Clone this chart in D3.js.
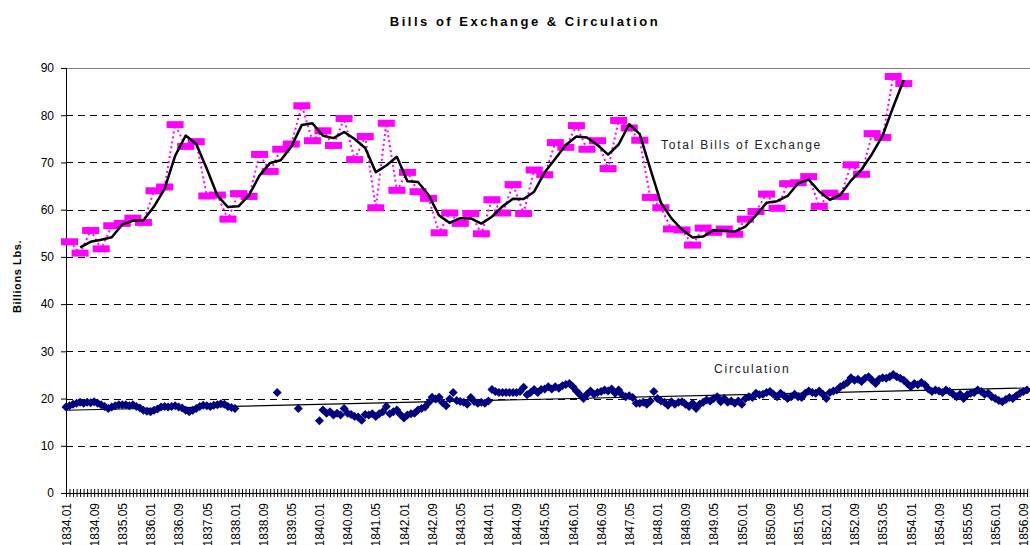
<!DOCTYPE html>
<html>
<head>
<meta charset="utf-8">
<script src="https://cdn.jsdelivr.net/npm/d3@7"></script>
<style>
  body { margin: 0; background: #fff; }
  svg { font-family: "Liberation Sans", Arial, sans-serif; }
</style>
</head>
<body>
<svg id="chart"></svg>
<script>
// monthly categories 1834.01 .. 1856.10
const startYear = 1834;
const monthCount = 274;
const months = d3.range(monthCount).map(
  (i) => `${startYear + Math.floor(i / 12)}.${String((i % 12) + 1).padStart(2, "0")}`
);

const tickLabels = [
  "1834.01", "1834.09", "1835.05", "1836.01", "1836.09", "1837.05", "1838.01",
  "1838.09", "1839.05", "1840.01", "1840.09", "1841.05", "1842.01", "1842.09",
  "1843.05", "1844.01", "1844.09", "1845.05", "1846.01", "1846.09", "1847.05",
  "1848.01", "1848.09", "1849.05", "1850.01", "1850.09", "1851.05", "1852.01",
  "1852.09", "1853.05", "1854.01", "1854.09", "1855.05", "1856.01", "1856.09",
];
const yTicks = [0, 10, 20, 30, 40, 50, 60, 70, 80, 90];

// quarterly totals of bills of exchange (from 1834.02)
const billsValues = [
  53.2, 50.8, 55.6, 51.7, 56.6, 57.1, 58.2, 57.3, 64.0, 64.8,
  78.0, 73.4, 74.4, 62.9, 63.1, 58.0, 63.4, 62.8, 71.7, 68.1,
  72.8, 73.9, 82.0, 74.6, 76.7, 73.6, 79.3, 70.6, 75.5, 60.4,
  78.3, 64.1, 67.9, 63.8, 62.4, 55.1, 59.3, 57.1, 59.2, 54.9,
  62.1, 59.3, 65.3, 59.2, 68.4, 67.4, 74.2, 73.2, 77.8, 72.8,
  74.6, 68.7, 78.9, 77.3, 74.7, 62.6, 60.4, 55.9, 55.7, 52.5,
  56.1, 55.2, 55.9, 54.8, 58.0, 59.6, 63.3, 60.3, 65.5, 65.7,
  67.0, 60.7, 63.5, 62.8, 69.5, 67.5, 76.1, 75.3, 88.2, 86.7,
];
const billsMonths = months.filter((d, i) => i % 3 === 1).slice(0, billsValues.length);

// monthly circulation (null = no figure)
const circulation = [
  18.2, 18.5, 18.8, 19.0, 19.2, 19.0, 19.2, 19.1, 19.3, 19.0,
  18.7, 18.3, 17.9, 18.2, 18.5, 18.7, 18.7, 18.7, 18.5, 18.7,
  18.3, 18.0, 17.5, 17.3, 17.2, 17.5, 17.8, 18.2, 18.3, 18.2,
  18.3, 18.5, 18.2, 18.0, 17.5, 17.2, 17.5, 17.9, 18.3, 18.6,
  18.5, 18.3, 18.6, 18.7, 18.9, 18.8, 18.3, 18.1, 17.9,
  null, null, null, null, null, null, null, null, null, null, null,
  21.3, null, null, null, null, null,
  17.9, null, null, null, null, null,
  15.3, 17.6, 16.9, 17.2, 16.5, 16.9, 16.5, 17.9, 16.9, 16.6,
  16.2, 16.1, 15.4, 16.6, 16.5, 16.8, 16.2, 16.8, 17.2, 18.3,
  16.8, 17.2, 17.6, 16.6, 15.9, 16.5, 16.8, 16.9, 17.6, 17.9,
  18.2, 19.1, 20.3, 19.9, 20.3, 19.1, 18.5, 19.9, 21.3, 19.6,
  19.4, 19.2, 18.8, 20.2, 19.4, 19.0, 19.2, 19.0, 19.5, 21.9,
  21.5, 21.3, 21.3, 21.3, 21.3, 21.3, 21.3, 21.5, 22.4, 20.8,
  21.3, 21.9, 21.3, 21.9,
  22.0, 22.5, 22.0, 22.5, 22.2, 22.7, 23.0, 23.2, 22.5, 21.6,
  20.8, 20.0, 20.9, 21.6, 20.9, 21.3, 21.5, 21.8, 21.6, 22.0,
  21.1, 21.8, 20.8, 20.4, 20.6, 20.2, 19.0, 19.0, 19.2, 18.8,
  19.5, 21.5, 20.0, 19.5, 19.2, 18.6, 19.3, 18.8, 19.2, 19.3,
  18.8, 18.3, 19.0, 17.9, 18.8, 19.2, 19.7, 19.5, 20.0, 20.4,
  19.3, 20.0, 19.2, 19.5, 19.0, 19.5, 18.8, 20.0, 20.4, 20.2,
  21.1, 20.8, 20.9, 21.3, 21.5, 20.9, 20.4, 21.1, 20.6, 20.0,
  20.4, 20.9, 20.4, 20.2, 21.1, 21.6, 21.3, 21.1, 21.6, 20.9,
  20.0, 21.3, 21.6, 21.8, 22.5, 22.9, 23.4, 24.4, 23.9, 24.1,
  23.6, 24.3, 24.6, 23.9, 23.2, 24.1, 24.4, 24.3, 24.6, 25.1,
  24.6, 24.3, 23.9, 23.2, 22.5, 23.2, 22.9, 23.4, 22.9, 22.0,
  21.5, 21.8, 21.6, 21.3, 21.8, 21.5, 20.9, 20.4, 20.9, 20.0,
  20.8, 21.1, 21.3, 21.8, 21.5, 20.9, 21.1, 20.4, 20.0, 19.6,
  19.3, 19.8, 20.2, 20.0, 20.6, 21.1, 21.5, 21.8,
];

const width = 1030;
const height = 545;
const margin = { top: 68, left: 66, bottom: 52 };
const plotRight = 66 + 3.52 * (monthCount - 1);

const svg = d3.select("#chart").attr("width", width).attr("height", height);

const x = d3.scalePoint().domain(months).range([margin.left, plotRight]);
const y = d3.scaleLinear().domain([0, 90]).range([height - margin.bottom, margin.top]);

// gridlines
svg.append("g")
  .selectAll("line")
  .data(yTicks.filter((d) => d > 0))
  .join("line")
  .attr("x1", margin.left)
  .attr("x2", width)
  .attr("y1", (d) => Math.round(y(d)) + 0.5)
  .attr("y2", (d) => Math.round(y(d)) + 0.5)
  .attr("stroke", (d) => (d === 90 ? "#808080" : "#000"))
  .attr("stroke-dasharray", (d) => (d === 90 ? null : "7,5"));

// y axis
const yAxis = svg.append("g")
  .attr("transform", `translate(${margin.left},0)`)
  .call(d3.axisLeft(y).tickValues(yTicks).tickSize(5).tickPadding(7).tickFormat(d3.format("d")));
yAxis.select(".domain").attr("stroke", "#000").attr("d", `M0.5,${y(90)}V${y(0)}`);
yAxis.selectAll("text").style("font-size", "12px").attr("fill", "#000");

// y label
svg.append("text")
  .attr("transform", `translate(21,${(y(0) + y(90)) / 2 - 4}) rotate(-90)`)
  .attr("text-anchor", "middle")
  .style("font-size", "11px")
  .style("font-weight", "bold")
  .style("letter-spacing", "0.6px")
  .text("Billions Lbs.");

// x axis: a tick every month, a label every eighth
const xAxis = svg.append("g")
  .attr("transform", `translate(0,${y(0)})`)
  .call(d3.axisBottom(x).tickSize(4).tickPadding(0)
    .tickFormat((d) => (tickLabels.includes(d) ? d : "")));
xAxis.select(".domain").attr("stroke", "#000").attr("d", `M${margin.left},0.5H${plotRight}`);
xAxis.selectAll(".tick line").attr("y1", -4).attr("y2", 4).attr("stroke", "#000");
xAxis.selectAll("text")
  .attr("transform", "rotate(-90)")
  .attr("x", -10)
  .attr("y", 0)
  .attr("dy", "0.35em")
  .attr("text-anchor", "end")
  .attr("fill", "#000")
  .style("font-size", "12px");

// circulation trendline (least squares)
const circPts = circulation
  .map((v, i) => ({ i, v }))
  .filter((d) => d.v !== null);
const mx = d3.mean(circPts, (d) => d.i);
const my = d3.mean(circPts, (d) => d.v);
const slope = d3.sum(circPts, (d) => (d.i - mx) * (d.v - my)) / d3.sum(circPts, (d) => (d.i - mx) ** 2);
const icpt = my - slope * mx;

svg.append("line")
  .attr("x1", x(months[0]))
  .attr("x2", x(months[monthCount - 1]))
  .attr("y1", y(icpt))
  .attr("y2", y(icpt + slope * (monthCount - 1)))
  .attr("stroke", "#000")
  .attr("stroke-width", 1.2);

// circulation points
svg.append("g")
  .selectAll("path")
  .data(circPts)
  .join("path")
  .attr("transform", (d) => `translate(${x(months[d.i])},${y(d.v)})`)
  .attr("d", "M0,-4.5L4.5,0L0,4.5L-4.5,0Z")
  .attr("fill", "#000080");

// bills: dotted connector
const bills = billsValues.map((v, k) => ({ m: billsMonths[k], v }));
const line = d3.line().x((d) => x(d.m)).y((d) => y(d.v));

svg.append("path")
  .datum(bills)
  .attr("fill", "none")
  .attr("stroke", "#ff00ff")
  .attr("stroke-width", 2)
  .attr("stroke-dasharray", "2,3")
  .attr("d", line);

svg.append("g")
  .selectAll("rect")
  .data(bills)
  .join("rect")
  .attr("x", (d) => x(d.m) - 8.5)
  .attr("y", (d) => y(d.v) - 3.5)
  .attr("width", 17)
  .attr("height", 7)
  .attr("fill", "#ff00ff");

// 2-period moving average
const movingAvg = bills.slice(1).map((d, k) => ({ m: d.m, v: (d.v + bills[k].v) / 2 }));
svg.append("path")
  .datum(movingAvg)
  .attr("fill", "none")
  .attr("stroke", "#000")
  .attr("stroke-width", 2.5)
  .attr("stroke-linejoin", "round")
  .attr("d", line);

// series labels
svg.append("text")
  .attr("x", 661)
  .attr("y", 149)
  .style("font-size", "12px")
  .style("letter-spacing", "1.75px")
  .attr("fill", "#222")
  .text("Total Bills of Exchange");

svg.append("text")
  .attr("x", 714)
  .attr("y", 373)
  .style("font-size", "12px")
  .style("letter-spacing", "1.8px")
  .attr("fill", "#222")
  .text("Circulation");

// title
svg.append("text")
  .attr("x", 525)
  .attr("y", 26)
  .attr("text-anchor", "middle")
  .style("font-size", "13px")
  .style("font-weight", "bold")
  .style("letter-spacing", "2.5px")
  .text("Bills of Exchange & Circulation");
</script>
</body>
</html>
